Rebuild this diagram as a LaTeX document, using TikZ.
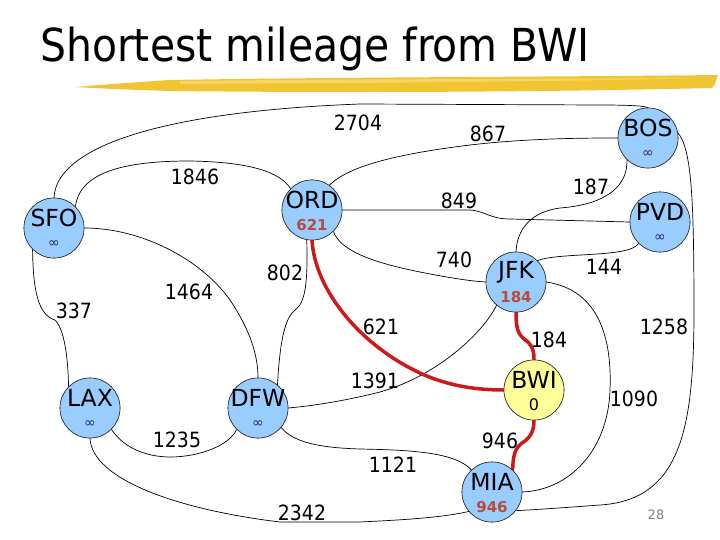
\documentclass[tikz,border=0pt]{standalone}
\usepackage{fontspec}
\setmainfont{DejaVu Sans}
\newfontfamily\condfont{DejaVu Sans Condensed}
\usetikzlibrary{calc}
\definecolor{nodeblue}{RGB}{153,204,255}
\definecolor{nodeyellow}{RGB}{255,255,153}
\definecolor{valred}{RGB}{185,75,55}
\definecolor{infblue}{RGB}{40,40,100}
\definecolor{pathred}{RGB}{205,25,25}
\definecolor{brushA}{RGB}{240,196,50}
\definecolor{brushB}{RGB}{250,222,120}
\definecolor{pagegray}{RGB}{128,128,128}
\begin{document}
\begin{tikzpicture}[x=1pt,y=-1pt,
  city/.style={circle, draw=black!80, line width=0.6pt, fill=nodeblue, minimum size=60pt, inner sep=0pt},
  home/.style={city, fill=nodeyellow},
  cname/.style={font=\fontsize{23.5}{23.5}\selectfont, inner sep=0pt},
  cval/.style={font=\bfseries\fontsize{15}{15}\selectfont, text=valred, inner sep=0pt},
  czero/.style={font=\fontsize{16}{16}\selectfont, inner sep=0pt},
  cinf/.style={font=\fontsize{14}{14}\selectfont, text=infblue, inner sep=0pt},
  edge/.style={draw=black, line width=0.7pt},
  redpath/.style={draw=pathred, line width=3.5pt, line cap=round},
  wlabel/.style={font=\condfont\fontsize{21}{21}\selectfont, inner sep=0pt}]
\useasboundingbox (0,0) rectangle (720,540);

% title
\node[anchor=base west, inner sep=0pt, font=\condfont\fontsize{45.5}{45.5}\selectfont] (title) at (40,62) {Shortest mileage from BWI};
% brush stroke
\fill[brushA] (75,87) .. controls (110,84) and (140,82) .. (170,80)
  .. controls (350,77) and (550,77) .. (718,75)
  .. controls (716,80) and (716,84) .. (712,88)
  .. controls (550,92) and (350,93) .. (170,91)
  .. controls (140,90) and (110,89) .. (75,87) -- cycle;
\fill[brushB, opacity=0.7] (180,81) .. controls (350,79) and (550,79) .. (700,78)
  .. controls (550,82) and (350,83) .. (180,84) -- cycle;

% cities
\node[city] (sfo) at (54,228) {};
\node[city] (ord) at (312,210) {};
\node[city] (bos) at (648,138) {};
\node[city] (pvd) at (660,222) {};
\node[city] (jfk) at (516,282) {};
\node[city] (lax) at (90,408) {};
\node[city] (dfw) at (258,408) {};
\node[home] (bwi) at (534,390) {};
\node[city] (mia) at (492,492) {};

% edges
\draw[edge] (sfo.90) .. controls (56,150) and (150,112) .. (360,104) -- (600,105) .. controls (630,105) and (645,106) .. (bos.north);
\draw[edge] (sfo.45) .. controls (80,170) and (130,161) .. (190,161) .. controls (250,162) and (280,172) .. (ord.135);
\draw[edge] (ord.55) .. controls (345,170) and (380,156) .. (470,145) .. controls (530,138) and (590,138) .. (bos.west);
\draw[edge] (ord.east) -- (470,210) .. controls (485,211) and (490,219) .. (510,219) -- (pvd.west);
\draw[edge] (ord.-45) .. controls (340,250) and (370,262) .. (420,272) .. controls (450,278) and (470,281) .. (jfk.west);
\draw[edge] (bos.-134) .. controls (628,190) and (600,205) .. (560,208) .. controls (530,212) and (517,230) .. (jfk.north);
\draw[edge] (pvd.-135) .. controls (630,258) and (560,252) .. (jfk.45);
\draw[edge] (bos.10) .. controls (692,150) and (694,200) .. (694,320) .. controls (693,430) and (680,500) .. (600,505) .. controls (560,508) and (530,510) .. (mia.-38);
\draw[edge] (jfk.east) .. controls (600,290) and (612,340) .. (610,390) .. controls (608,450) and (570,490) .. (mia.east);
\draw[edge] (jfk.-130) .. controls (485,330) and (440,375) .. (380,392) .. controls (340,402) and (310,406) .. (dfw.east);
\draw[edge] (ord.-100) .. controls (308,285) and (305,303) .. (295,310) .. controls (285,318) and (280,340) .. (dfw.50);
\draw[edge] (sfo.east) .. controls (140,228) and (200,258) .. (230,300) .. controls (250,330) and (258,355) .. (dfw.north);
\draw[edge] (sfo.-135) .. controls (33,290) and (38,315) .. (55,320) .. controls (65,330) and (68,360) .. (lax.135);
\draw[edge] (lax.-45) .. controls (125,450) and (150,457) .. (170,457) .. controls (200,457) and (230,445) .. (dfw.-135);
\draw[edge] (lax.south) .. controls (92,480) and (180,510) .. (280,522) -- (360,522) .. controls (400,520) and (440,518) .. (mia.-140);
\draw[edge] (dfw.-40) .. controls (295,445) and (330,448) .. (360,449) .. controls (410,450) and (455,452) .. (mia.133);

% shortest path tree (red)
\draw[redpath] (ord.south) .. controls (315,290) and (360,345) .. (420,373) .. controls (450,387) and (480,390) .. (bwi.west);
\draw[redpath] (jfk.south) .. controls (516,330) and (518,335) .. (528,342) .. controls (533,347) and (534,352) .. (bwi.north);
\draw[redpath] (bwi.south) .. controls (534,432) and (530,438) .. (522,443) .. controls (514,449) and (513,458) .. (mia.47);

% redraw city circles on top of edges
\foreach \c in {sfo,ord,bos,pvd,jfk,lax,dfw,mia}{
  \draw[line width=0.6pt, draw=black!80, fill=nodeblue] (\c) circle (30pt);
}
\draw[line width=0.6pt, draw=black!80, fill=nodeyellow] (bwi) circle (30pt);

% city texts
\node[cname] (sfoN) at ($(sfo)+(0,-10)$) {SFO};
\node[cinf]  (sfoD) at ($(sfo)+(0,16)$) {∞};
\node[cname] (ordN) at ($(ord)+(0,-10)$) {ORD};
\node[cval]  (ordD) at ($(ord)+(0,15)$) {621};
\node[cname] (bosN) at ($(bos)+(0,-10)$) {BOS};
\node[cinf]  (bosD) at ($(bos)+(0,16)$) {∞};
\node[cname] (pvdN) at ($(pvd)+(0,-10)$) {PVD};
\node[cinf]  (pvdD) at ($(pvd)+(0,16)$) {∞};
\node[cname] (jfkN) at ($(jfk)+(0,-10)$) {JFK};
\node[cval]  (jfkD) at ($(jfk)+(0,15)$) {184};
\node[cname] (laxN) at ($(lax)+(0,-10)$) {LAX};
\node[cinf]  (laxD) at ($(lax)+(0,16)$) {∞};
\node[cname] (dfwN) at ($(dfw)+(0,-10)$) {DFW};
\node[cinf]  (dfwD) at ($(dfw)+(0,16)$) {∞};
\node[cname] (bwiN) at ($(bwi)+(0,-10)$) {BWI};
\node[czero] (bwiD) at ($(bwi)+(0,15)$) {0};
\node[cname] (miaN) at ($(mia)+(0,-10)$) {MIA};
\node[cval]  (miaD) at ($(mia)+(0,15)$) {946};

% edge weights
\node[wlabel] (w2704) at (358,123) {2704};
\node[wlabel] (w867)  at (488,134) {867};
\node[wlabel] (w1846) at (195,177) {1846};
\node[wlabel] (w849)  at (459,201) {849};
\node[wlabel] (w187)  at (591,187) {187};
\node[wlabel] (w740)  at (454,260) {740};
\node[wlabel] (w144)  at (604,267) {144};
\node[wlabel] (w802)  at (285,273) {802};
\node[wlabel] (w1464) at (189,292) {1464};
\node[wlabel] (w337)  at (74,311) {337};
\node[wlabel] (w621)  at (381,327) {621};
\node[wlabel] (w184)  at (549,340) {184};
\node[wlabel] (w1258) at (664,327) {1258};
\node[wlabel] (w1391) at (375,381) {1391};
\node[wlabel] (w1090) at (634,399) {1090};
\node[wlabel] (w1235) at (177,440) {1235};
\node[wlabel] (w946)  at (500,441) {946};
\node[wlabel] (w1121) at (393,465) {1121};
\node[wlabel] (w2342) at (302,513) {2342};

\node[inner sep=0pt, text=pagegray, font=\fontsize{13}{13}\selectfont] (pnum) at (656,515) {28};
\end{tikzpicture}
\end{document}
